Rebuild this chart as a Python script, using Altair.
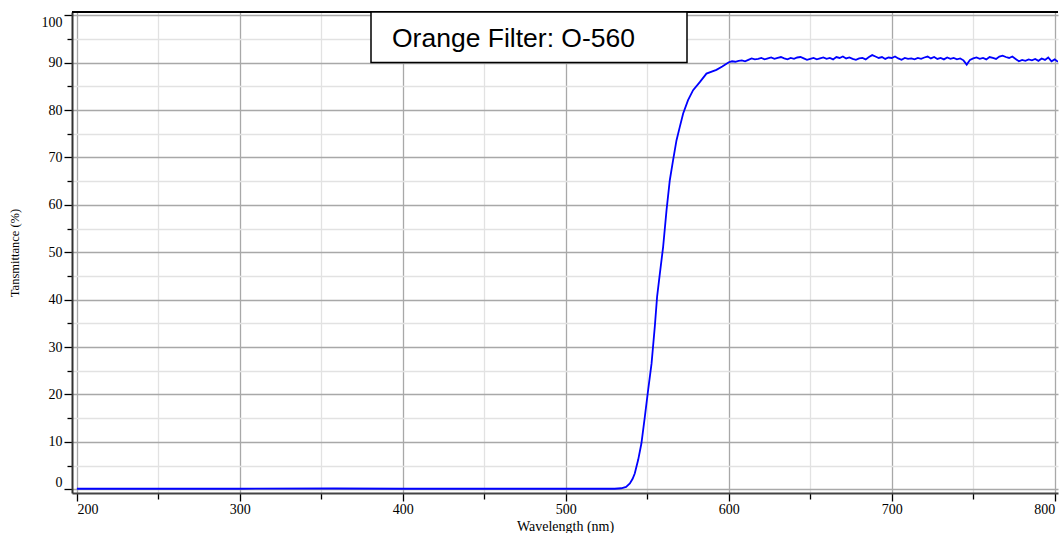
import altair as alt
import pandas as pd

# Rising edge of the filter curve (wavelength nm, transmittance %)
rise_wl = [200, 300, 358, 400, 500, 530, 534, 537, 539.3, 541, 542.3, 544.4, 546.4,
           548.5, 550.5, 552.6, 554.6, 556, 557.7, 559.7, 561.8, 563.8, 565.8,
           567.9, 569.9, 572, 575, 578.1, 582.2, 586.3, 592.4, 596, 598.6]
rise_t = [0.1, 0.1, 0.15, 0.1, 0.1, 0.1, 0.2, 0.5, 1.2, 2.2, 3.3, 6.2, 9.7,
          15.3, 20.9, 26.5, 34.3, 40.6, 45.5, 51.1, 58.9, 65.2, 69.4,
          73.6, 76.4, 79.3, 82.1, 84.2, 85.9, 87.7, 88.5, 89.2, 89.8]

# Plateau, sampled every 2 nm from 600 to 802 nm
plateau_wl = list(range(600, 804, 2))
plateau_t = [90.1, 90.3, 90.2, 90.4, 90.5, 90.3, 90.6, 90.9, 90.7, 90.8,
             91.0, 90.7, 90.9, 91.1, 90.8, 91.0, 91.2, 90.9, 90.7, 91.0,
             90.8, 91.1, 91.2, 90.9, 90.6, 90.8, 91.0, 90.7, 90.9, 91.1,
             90.8, 91.0, 90.7, 91.2, 91.0, 91.3, 90.9, 91.1, 90.8, 90.6,
             90.9, 91.0, 90.7, 91.2, 91.6, 91.3, 91.0, 91.2, 90.8, 91.1,
             91.0, 91.3, 90.9, 90.6, 91.0, 90.8, 90.9, 90.7, 91.0, 90.8,
             91.1, 91.3, 90.9, 91.2, 90.8, 91.0, 90.7, 91.1, 90.8, 91.0,
             90.7, 90.9, 90.5, 89.6, 90.6, 90.9, 91.1, 90.8, 91.0, 90.7,
             91.2, 91.0, 90.8, 91.3, 91.5, 91.2, 91.0, 91.3, 90.8, 90.3,
             90.6, 90.4, 90.7, 90.5, 90.8, 90.4, 90.9, 90.6, 91.1, 90.3,
             90.7, 90.2]

x_ticks = [200, 250, 300, 350, 400, 450, 500, 550, 600, 650, 700, 750, 800]
y_ticks = [0, 5, 10, 15, 20, 25, 30, 35, 40, 45, 50, 55, 60, 65, 70, 75, 80, 85, 90, 95, 100]

title_text = "Orange Filter: O-560"

df = pd.DataFrame({"wl": rise_wl + plateau_wl, "t": rise_t + plateau_t})

W, H = 986, 481
serif = "Liberation Serif"

major_x = "datum.value % 100 === 0"
major_y = "datum.value % 10 === 0"

x_axis = alt.Axis(
    values=x_ticks,
    title="Wavelength (nm)",
    labelExpr=f"{major_x} ? datum.label : ''",
    labelFlush=10,
    labelOverlap=False,
    labelFont=serif, labelFontSize=14, labelColor="#000", labelPadding=1,
    titleFont=serif, titleFontSize=14, titleFontWeight="normal", titleColor="#000",
    titleY=26, titleBaseline="top",
    grid=True,
    gridColor={"condition": {"test": major_x, "value": "#a8a8a8"}, "value": "#e2e2e2"},
    gridWidth=1.3,
    ticks=True, tickColor="#000", tickWidth=1.3,
    tickSize={"condition": {"test": major_x, "value": 8}, "value": 6},
    domainColor="#444", domainWidth=2,
)

y_axis = alt.Axis(
    values=y_ticks,
    title="Tansmittance (%)",
    labelExpr=f"{major_y} ? datum.label : ''",
    labelFlush=10,
    labelOverlap=False,
    labelFont=serif, labelFontSize=14, labelColor="#000", labelPadding=2,
    titleFont=serif, titleFontSize=12.5, titleFontWeight="normal", titleColor="#000",
    titleX=-51, titleY=H / 2,
    grid=True,
    gridColor={"condition": {"test": major_y, "value": "#a8a8a8"}, "value": "#e2e2e2"},
    gridWidth=1.3,
    ticks=True, tickColor="#000", tickWidth=1.3,
    tickSize={"condition": {"test": major_y, "value": 8}, "value": 5},
    domainColor="#333", domainWidth=2,
)

line = alt.Chart(df).mark_line(color="#0000ff", strokeWidth=1.8, clip=True).encode(
    x=alt.X("wl:Q", scale=alt.Scale(domain=[197, 802], nice=False, zero=False), axis=x_axis),
    y=alt.Y("t:Q", scale=alt.Scale(domain=[-0.8, 100.7], nice=False, zero=False), axis=y_axis),
)

top_frame = alt.Chart(df).mark_rule(color="#000", strokeWidth=1.5).encode(
    x=alt.value(0), x2=alt.value(W), y=alt.value(0)
)

box = alt.Chart(pd.DataFrame({"label": [title_text]})).mark_rect(
    fill="white", stroke="#000", strokeWidth=1.5
).encode(
    x=alt.value(299), x2=alt.value(615), y=alt.value(0), y2=alt.value(50.5)
)

label = alt.Chart(pd.DataFrame({"label": [title_text]})).mark_text(
    font="Liberation Sans", fontSize=26.5, align="left", baseline="middle", color="#000"
).encode(
    x=alt.value(320), y=alt.value(27), text="label:N"
)

chart = alt.layer(line, top_frame, box, label).properties(
    width=W, height=H,
    padding={"left": 72, "top": 12, "right": 2, "bottom": 40},
    autosize=alt.AutoSizeParams(type="none"),
    background="white",
).configure_view(stroke=None)

chart.save("out.html", embed_options={"renderer": "svg", "actions": False})
